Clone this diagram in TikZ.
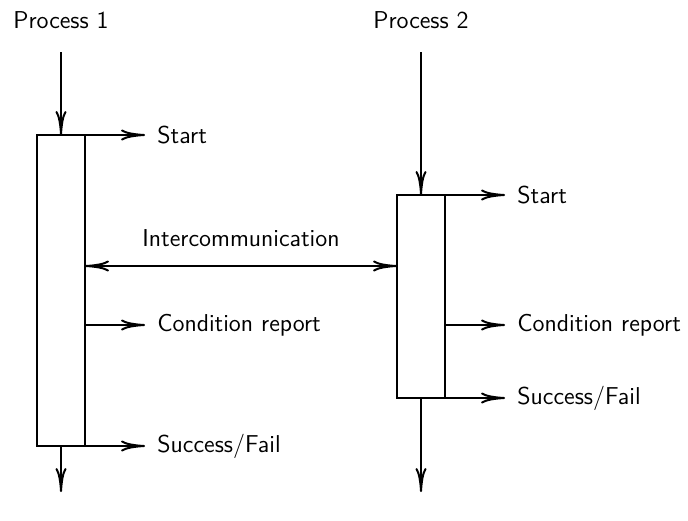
\documentclass[tikz,border=0pt]{standalone}
\usepackage{tikz}
\usetikzlibrary{arrows.meta, positioning}

\begin{document}
\begin{tikzpicture}[x=0.5pt, y=-0.5pt]
  \tikzset{
    procbox/.style={
      rectangle, draw=black, line width=1pt,
      minimum width=24pt, inner sep=0pt, outer sep=0pt
    },
    lbl/.style={font=\sffamily\fontsize{12.2}{14}\selectfont, inner sep=0pt},
    arr/.style={-{To[length=12pt, width=5.5pt]}, line width=1pt},
    darr/.style={{To[length=12pt, width=5.5pt]}-{To[length=12pt, width=5.5pt]}, line width=1pt}
  }
  \useasboundingbox (0,0) rectangle (688,520);

  % process 1
  \node[procbox, minimum height=155.5pt] (box1) at (61,290.5) {};
  \node[lbl] (proc1) at (61,20) {Process 1};
  \coordinate (in1) at (61,52);
  \coordinate (out1) at (61,492);
  \coordinate (s1) at (145,135);
  \coordinate (c1) at (145,325);
  \coordinate (f1) at (145,446);
  \node[lbl, right=6pt of s1] (start1) {Start};
  \node[lbl, right=6pt of c1] (cond1) {Condition report};
  \node[lbl, right=6pt of f1] (fail1) {Success/Fail};

  % process 2
  \node[procbox, minimum height=101.5pt] (box2) at (421,296.5) {};
  \node[lbl] (proc2) at (421,20) {Process 2};
  \coordinate (in2) at (421,52);
  \coordinate (out2) at (421,492);
  \coordinate (s2) at (505,195);
  \coordinate (c2) at (505,325);
  \coordinate (f2) at (505,398);
  \node[lbl, right=6pt of s2] (start2) {Start};
  \node[lbl, right=6pt of c2] (cond2) {Condition report};
  \node[lbl, right=6pt of f2] (fail2) {Success/Fail};

  \draw[arr] (in1) -- (box1.north);
  \draw[arr] (box1.south) -- (out1);
  \draw[arr] (box1.north east) -- (s1);
  \draw[arr] (box1.east |- c1) -- (c1);
  \draw[arr] (box1.south east) -- (f1);

  \draw[arr] (in2) -- (box2.north);
  \draw[arr] (box2.south) -- (out2);
  \draw[arr] (box2.north east) -- (s2);
  \draw[arr] (box2.east |- c2) -- (c2);
  \draw[arr] (box2.south east) -- (f2);

  % link between the two
  \coordinate (ic) at (0,266);
  \draw[darr] (box1.east |- ic) -- node[lbl, above=9pt] (icom) {Intercommunication} (box2.west |- ic);
\end{tikzpicture}
\end{document}
